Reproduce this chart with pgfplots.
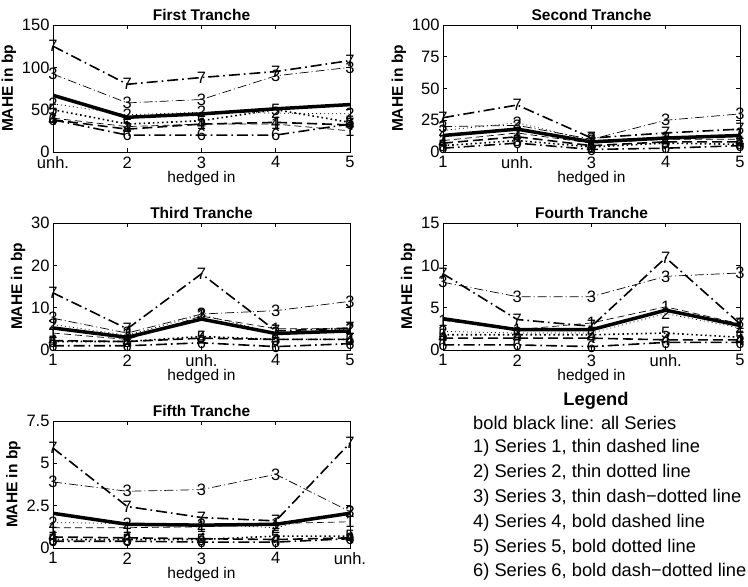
\documentclass[border=0pt]{standalone}
\usepackage{fontspec}
\setmainfont{Liberation Sans}
\usepackage{pgfplots}
\usepackage{pgfplotstable}
\pgfplotsset{compat=1.18}

\newcommand{\tk}{\fontsize{16.5}{16.5}\selectfont}
\newcommand{\lb}{\fontsize{15.5}{15.5}\selectfont}
\newcommand{\legfont}{\fontsize{18.3}{18.3}\selectfont}

% MAHE in bp, columns: all series, series 1..7
\pgfplotstableread{
x all s1 s2 s3 s4 s5 s6 s7
1 67 40 57 92 38 50 38 125
2 41 30 44 58 27 33 20 80
3 45 33 47 62 33 37 20 88
4 51 33 46 90 35 50 20 95
5 56 25 45 100 32 35 33 108
}\tfirst
\pgfplotstableread{
x all s1 s2 s3 s4 s5 s6 s7
1 13 9 17 20 7 5 3 27
2 18 15 23 21 12 9 7 37
3 8 7 9 10 5 4 2 11
4 11 10 11 25 8 7 3 15
5 13 10 14 30 8 6 5 18
}\tsecond
\pgfplotstableread{
x all s1 s2 s3 s4 s5 s6 s7
1 5.2 4 6 7.5 2.2 2 1 13.5
2 3 2.5 3.5 4 2 2 1 5
3 7.3 8 8.3 8.5 2.8 3.2 1.7 18
4 3.9 5 4 9.3 2.5 2.5 0.8 4.5
5 4.5 5 5 11.5 2.5 2.5 1.5 5.2
}\tthird
\pgfplotstableread{
x all s1 s2 s3 s4 s5 s6 s7
1 3.7 3.5 2.2 8 1.4 1.8 0.6 9
2 2.4 2.4 2.0 6.3 1.4 1.8 0.6 3.6
3 2.4 3.2 2.0 6.3 1.4 1.8 0.4 2.8
4 4.7 5.1 4.3 8.7 1.2 2.0 0.9 10.9
5 2.9 3.1 2.6 9.1 1.2 1.5 0.9 3.1
}\tfourth
\pgfplotstableread{
x all s1 s2 s3 s4 s5 s6 s7
1 2.05 1.2 1.5 3.9 0.65 0.5 0.4 5.9
2 1.4 1.2 1.45 3.35 0.6 0.5 0.4 2.45
3 1.35 1.25 1.4 3.45 0.55 0.5 0.35 1.8
4 1.4 1.45 1.2 4.35 0.5 0.7 0.35 1.6
5 2.05 1.55 2.15 2.15 0.6 0.7 0.55 6.2
}\tfifth

\pgfplotsset{
  tranche/.style={
    scale only axis, width=297pt, height=127pt,
    xmin=1, xmax=5, xtick={1,2,3,4,5},
    tick align=inside, major tick length=4pt,
    axis line style={line width=0.6pt},
    every tick/.style={black, line width=0.6pt},
    /pgf/number format/assume math mode=true,
    tick label style={font=\tk},
    xticklabel style={yshift=-1pt},
    xlabel={hedged in}, ylabel={MAHE in bp},
    xlabel style={font=\lb, yshift=4pt},
    ylabel style={font=\lb\bfseries, yshift=-1pt},
    title style={font=\lb\bfseries, yshift=-5pt},
  },
  nl/.style={nodes near coords={#1}, nodes near coords align=center,
    every node near coord/.append style={font=\tk, anchor=center, inner sep=0pt, solid, black}},
  s1/.style={black, line width=0.7pt, dash pattern=on 7pt off 4pt, nl=1},
  s2/.style={black, line width=0.7pt, dash pattern=on 1pt off 3pt, nl=2},
  s3/.style={black, line width=0.7pt, dash pattern=on 9pt off 3pt on 1pt off 3pt, nl=3},
  s4/.style={black, line width=1.6pt, dash pattern=on 10pt off 5pt, nl=4},
  s5/.style={black, line width=1.6pt, dash pattern=on 1.6pt off 3pt, nl=5},
  s6/.style={black, line width=1.6pt, dash pattern=on 11pt off 4pt on 1.6pt off 4pt, nl=6},
  s7/.style={black, line width=1.6pt, dash pattern=on 11pt off 4pt on 1.6pt off 4pt, nl=7},
  sall/.style={black, line width=3.5pt},
}

\newcommand{\tranchelines}[1]{%
  \addplot[s1] table[x=x, y=s1] {#1};
  \addplot[s2] table[x=x, y=s2] {#1};
  \addplot[s3] table[x=x, y=s3] {#1};
  \addplot[s4] table[x=x, y=s4] {#1};
  \addplot[s5] table[x=x, y=s5] {#1};
  \addplot[s6] table[x=x, y=s6] {#1};
  \addplot[s7] table[x=x, y=s7] {#1};
  \addplot[sall] table[x=x, y=all] {#1};
}

\begin{document}
\begin{tikzpicture}
\path[use as bounding box] (0pt,0pt) rectangle (748pt,-587pt);

\begin{axis}[tranche, at={(53pt,-152pt)}, anchor=south west,
  title={First Tranche}, ymin=0, ymax=150, ytick={0,50,100,150},
  xticklabels={unh.,2,3,4,5}]
  \tranchelines{\tfirst}
\end{axis}

\begin{axis}[tranche, at={(443pt,-152pt)}, anchor=south west,
  title={Second Tranche}, ymin=0, ymax=100, ytick={0,25,50,75,100},
  xticklabels={1,unh.,3,4,5}]
  \tranchelines{\tsecond}
\end{axis}

\begin{axis}[tranche, at={(53pt,-350pt)}, anchor=south west,
  title={Third Tranche}, ymin=0, ymax=30, ytick={0,10,20,30},
  xticklabels={1,2,unh.,4,5}]
  \tranchelines{\tthird}
\end{axis}

\begin{axis}[tranche, at={(443pt,-350pt)}, anchor=south west,
  title={Fourth Tranche}, ymin=0, ymax=15, ytick={0,5,10,15},
  xticklabels={1,2,3,unh.,5}]
  \tranchelines{\tfourth}
\end{axis}

\begin{axis}[tranche, at={(53pt,-548pt)}, anchor=south west,
  title={Fifth Tranche}, ymin=0, ymax=7.5, ytick={0,2.5,5,7.5},
  xticklabels={1,2,3,4,unh.}]
  \tranchelines{\tfifth}
\end{axis}

% legend text block
\node[font=\legfont\bfseries, anchor=center] at (596pt,-401pt) {Legend};
\node[font=\legfont, anchor=west, inner sep=0pt] at (473pt,-423pt) {bold black line: all Series};
\node[font=\legfont, anchor=west, inner sep=0pt] at (473pt,-448pt) {1) Series 1, thin dashed line};
\node[font=\legfont, anchor=west, inner sep=0pt] at (473pt,-473pt) {2) Series 2, thin dotted line};
\node[font=\legfont, anchor=west, inner sep=0pt] at (473pt,-498pt) {3) Series 3, thin dash−dotted line};
\node[font=\legfont, anchor=west, inner sep=0pt] at (473pt,-523pt) {4) Series 4, bold dashed line};
\node[font=\legfont, anchor=west, inner sep=0pt] at (473pt,-548pt) {5) Series 5, bold dotted line};
\node[font=\legfont, anchor=west, inner sep=0pt] at (473pt,-572pt) {6) Series 6, bold dash−dotted line};
\end{tikzpicture}
\end{document}
